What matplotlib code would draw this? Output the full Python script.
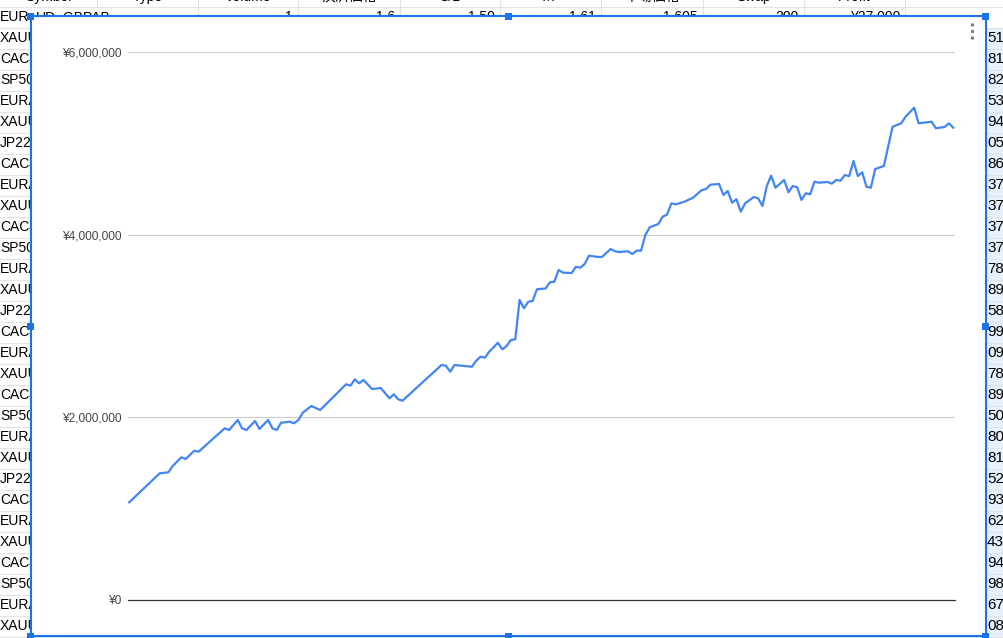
import matplotlib
matplotlib.use("Agg")
import matplotlib.pyplot as plt
from matplotlib.patches import Rectangle, Circle
from matplotlib.ticker import FuncFormatter

plt.rcParams['font.family'] = ['Liberation Sans', 'Noto Sans CJK JP', 'DejaVu Sans']

# equity curve (trade number, balance in yen)
trade_no = [0, 7, 9, 10, 12, 13, 15, 16, 22, 23, 25, 26, 27, 29, 30, 32, 33, 34, 35, 37,
            38, 39, 40, 42, 44, 50, 51, 52, 53, 54, 56, 58, 60, 61, 62, 63, 72, 73, 74, 75,
            79, 80, 81, 82, 83, 85, 86, 87, 88, 89, 90, 91, 92, 93, 94, 96, 97, 98, 99, 100,
            102, 103, 104, 105, 106, 108, 109, 111, 112, 113, 115, 116, 117, 118, 119, 120,
            122, 123, 124, 125, 126, 128, 130, 132, 133, 134, 136, 137, 138, 139, 140, 141,
            142, 144, 145, 146, 147, 148, 149, 151, 152, 153, 154, 155, 156, 157, 158, 159,
            161, 162, 163, 164, 165, 166, 167, 168, 169, 170, 171, 172, 174, 176, 178, 179,
            181, 182, 185, 186, 188, 189, 190]
equity = [1070000, 1387000, 1398000, 1467000, 1562000, 1544000, 1635000, 1624000, 1880000,
          1861000, 1971000, 1880000, 1861000, 1960000, 1872000, 1971000, 1880000, 1861000,
          1941000, 1952000, 1935000, 1971000, 2051000, 2124000, 2080000, 2362000, 2346000,
          2416000, 2373000, 2409000, 2310000, 2321000, 2208000, 2252000, 2197000, 2182000,
          2573000, 2565000, 2500000, 2573000, 2554000, 2620000, 2664000, 2653000, 2719000,
          2817000, 2745000, 2781000, 2847000, 2854000, 3285000, 3194000, 3266000, 3274000,
          3402000, 3411000, 3479000, 3485000, 3613000, 3584000, 3580000, 3649000, 3638000,
          3679000, 3770000, 3756000, 3756000, 3843000, 3818000, 3810000, 3818000, 3788000,
          3825000, 3825000, 3996000, 4081000, 4117000, 4197000, 4219000, 4343000, 4332000,
          4361000, 4405000, 4489000, 4500000, 4547000, 4555000, 4434000, 4478000, 4350000,
          4387000, 4252000, 4343000, 4412000, 4398000, 4314000, 4533000, 4646000, 4514000,
          4599000, 4464000, 4533000, 4519000, 4380000, 4453000, 4442000, 4580000, 4569000,
          4577000, 4558000, 4599000, 4591000, 4653000, 4642000, 4807000, 4642000, 4683000,
          4525000, 4514000, 4719000, 4752000, 5182000, 5219000, 5292000, 5390000, 5219000,
          5237000, 5165000, 5179000, 5219000, 5171000]
y_ticks = [0, 2000000, 4000000, 6000000]

# sheet behind the chart
headers = ["Symbol", "Type", "Volume", "決済価格", "S/L", "T/P", "市場価格", "Swap", "Profit"]
first_row = ["1", "1.6", "1.50", "1.61", "1.605", "200", "¥27,000"]
symbols = ["EUR", "XAUUSD", "CAC40", "SP500", "EURAUD", "XAUUSD", "JP225", "CAC40", "EURAUD",
           "XAUUSD", "CAC40", "SP500", "EURAUD", "XAUUSD", "JP225", "CAC40", "EURAUD", "XAUUSD",
           "CAC40", "SP500", "EURAUD", "XAUUSD", "JP225", "CAC40", "EURAUD", "XAUUSD", "CAC40",
           "SP500", "EURAUD", "XAUUSD"]
right_col = ["51", "81", "82", "53", "94", "05", "86", "37", "37", "37", "37", "78", "89", "58",
             "99", "09", "78", "89", "50", "80", "81", "52", "93", "62", "43", "94", "98", "67",
             "08"]

W, H = 1004, 638
fig = plt.figure(figsize=(W / 100, H / 100), dpi=100)
bg = fig.add_axes([0, 0, 1, 1])
bg.set_xlim(0, W)
bg.set_ylim(H, 0)
bg.axis('off')

col_edges = [97, 198, 298, 400, 500, 601, 703, 804, 905]
grid_c = '#e2e3e3'
sel_blue = '#1a73e8'
box_l, box_t, box_r, box_b = 31, 16, 986, 636

# selected cells on the right
bg.add_patch(Rectangle((box_r, 28), W - box_r, H - 28, fc='#e8f0fe', ec='none', zorder=0))
for k in range(32):
    y = 6.5 + 21 * k
    bg.plot([0, W], [y, y], color=grid_c, lw=0.8, zorder=1)
for x in col_edges:
    bg.plot([x, x], [0, H], color=grid_c, lw=0.8, zorder=1)

for i, h in enumerate(headers):
    left = 0 if i == 0 else col_edges[i - 1]
    bg.text((left + col_edges[i]) / 2, 1, h, ha='center', va='baseline', fontsize=10, zorder=2)

bg.text(36, 17, "UD_GBPAB", ha='left', va='center', fontsize=10, zorder=2)
for i, v in enumerate(first_row):
    bg.text(col_edges[i + 2] - 5, 17, v, ha='right', va='center', fontsize=10, zorder=2)

for k, s in enumerate(symbols):
    bg.text(0, 17 + 21 * k, s, ha='left', va='center', fontsize=10, zorder=2)
for k, s in enumerate(right_col):
    bg.text(987, 38 + 21 * k, s, ha='left', va='center', fontsize=11, zorder=2)

# chart object
bg.add_patch(Rectangle((box_l, box_t), box_r - box_l, box_b - box_t, fc='white', ec=sel_blue,
                       lw=1.5, zorder=5))
mid_x, mid_y = (box_l + box_r) / 2, (box_t + box_b) / 2
for hx, hy in [(box_l, box_t), (mid_x, box_t), (box_r, box_t), (box_l, mid_y), (box_r, mid_y),
               (box_l, box_b), (mid_x, box_b), (box_r, box_b)]:
    bg.add_patch(Rectangle((hx - 3.5, hy - 3.5), 7, 7, fc=sel_blue, ec='none', zorder=6))
for dy in [25, 31.5, 38]:
    bg.add_patch(Circle((972.5, dy), 1.7, fc='#7a7a7a', ec='none', zorder=6))

# the line chart itself
ax = fig.add_axes([128 / W, (H - 600) / H, (955 - 128) / W, (600 - 52) / H])
ax.patch.set_visible(False)
ax.plot(trade_no, equity, color='#4285f4', lw=1.6, solid_joinstyle='round', zorder=3)
ax.set_xlim(-0.3, 190.4)
ax.set_ylim(0, 6000000)
ax.set_yticks(y_ticks)
ax.yaxis.set_major_formatter(FuncFormatter(lambda v, p: '¥{:,}'.format(int(v))))
ax.tick_params(axis='y', length=0, pad=5, labelsize=8.6, labelcolor='#444444')
ax.set_xticks([])
for s in ax.spines.values():
    s.set_visible(False)
for t in y_ticks[1:]:
    ax.axhline(t, color='#cccccc', lw=0.8, zorder=1)
ax.axhline(0, color='#333333', lw=0.9, zorder=2, clip_on=False)

fig.savefig('out.png', dpi=100)
